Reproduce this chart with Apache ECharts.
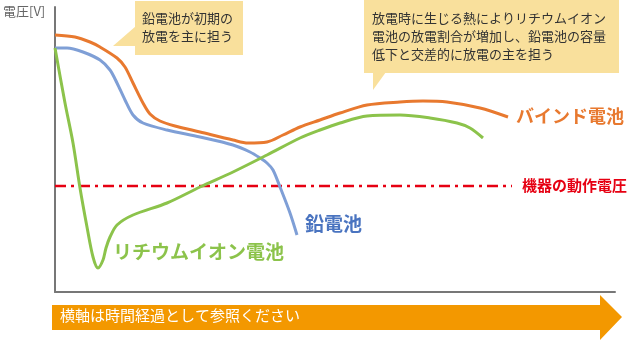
<!DOCTYPE html>
<html><head><meta charset="utf-8">
<script src="https://cdn.jsdelivr.net/npm/echarts@6/dist/echarts.min.js"></script>
<style>html,body{margin:0;padding:0;background:#fff}#c{width:629px;height:341px}</style>
</head><body><div id="c"></div>
<script>
// Data (x: elapsed time units, y: voltage units)
const bindBattery = [[0,257],[20,255],[35,250],[45,245],[62,234],[70,225],[78,209],[88,189],[95,178],[105,171],[120,166],[145,160],[178,152],[193,149],[212,150],[228,157],[245,165],[265,172],[285,179],[312,187],[345,190],[368,191],[392,190],[425,184],[453,175]];
const leadBattery = [[0,244],[12,244],[28,240],[45,232],[55,222],[62,209],[70,192],[78,177],[88,169],[112,162],[145,155],[178,147],[195,140],[205,134],[212,129],[218,122],[225,105],[235,79],[242,57]];
const liionBattery = [[0,244],[10,189],[18,149],[25,104],[32,65],[38,35],[43,24],[48,32],[51,44],[55,55],[62,67],[78,77],[112,89],[145,105],[178,120],[212,137],[245,154],[265,162],[285,169],[312,176],[345,177],[375,174],[402,169],[415,164],[428,154]];
const operatingVoltage = [[0,106],[457,106]];
const seriesNames = ['バインド電池','鉛電池','リチウムイオン電池','機器の動作電圧'];
const axisName = '電圧[V]';
const note1 = ['鉛電池が初期の','放電を主に担う'];
const note2 = ['放電時に生じる熱によりリチウムイオン','電池の放電割合が増加し、鉛電池の容量','低下と交差的に放電の主を担う'];
const arrowText = '横軸は時間経過として参照ください';

const FONT = '"Noto Sans CJK JP", "Noto Sans", sans-serif';
const chart = echarts.init(document.getElementById('c'), null, {renderer:'canvas'});
const lineSeries = (name, data, color, smooth) => ({
  name, type:'line', data, smooth, symbol:'none', silent:true, sampling:null,
  lineStyle:{color, width:3}, z:3
});
chart.setOption({
  animation:false,
  grid:{left:55, right:14, top:7, bottom:49},
  xAxis:{type:'value', min:0, max:560, axisLine:{show:true, lineStyle:{color:'#777', width:2}},
    axisTick:{show:false}, axisLabel:{show:false}, splitLine:{show:false}},
  yAxis:{type:'value', min:0, max:285, axisLine:{show:true, lineStyle:{color:'#777', width:2}},
    axisTick:{show:false}, axisLabel:{show:false}, splitLine:{show:false}},
  series:[
    {name:seriesNames[3], type:'line', data:operatingVoltage, symbol:'none', silent:true,
      lineStyle:{color:'#e60012', width:2.5, type:[11,5,3,5]}, z:2},
    lineSeries(seriesNames[1], leadBattery, '#7f9fd6', 0.3),
    lineSeries(seriesNames[2], liionBattery, '#8cc34b', 0.3),
    lineSeries(seriesNames[0], bindBattery, '#e8792f', 0.3)
  ],
  graphic:[
    {type:'text', left:3, top:5, style:{text:axisName, fill:'#666', font:'13px '+FONT}},
    // note box 1
    {type:'polygon', shape:{points:[[113,46],[136,26],[136,46]]}, style:{fill:'#f9e09c'}},
    {type:'rect', shape:{x:135, y:1, width:108, height:54}, style:{fill:'#f9e09c'}},
    {type:'text', left:142, top:9, style:{text:note1.join('\n'), fill:'#333', font:'13px '+FONT, lineHeight:18}},
    // note box 2
    {type:'polygon', shape:{points:[[373,72],[373,90],[386,72]]}, style:{fill:'#f9e09c'}},
    {type:'rect', shape:{x:364, y:0, width:255, height:73}, style:{fill:'#f9e09c'}},
    {type:'text', left:372, top:9, style:{text:note2.join('\n'), fill:'#333', font:'13px '+FONT, lineHeight:18}},
    // series labels
    {type:'text', left:516, top:107, style:{text:seriesNames[0], fill:'#e8792f', font:'bold 18px '+FONT}},
    {type:'text', left:305, top:214, style:{text:seriesNames[1], fill:'#4a74c0', font:'bold 19px '+FONT}},
    {type:'text', left:113, top:242, style:{text:seriesNames[2], fill:'#8cc34b', font:'bold 19px '+FONT}},
    {type:'text', left:522, top:178, style:{text:seriesNames[3], fill:'#e60012', font:'bold 15px '+FONT}},
    // arrow
    {type:'polygon', shape:{points:[[52,305],[600,305],[600,295],[622,317],[600,340],[600,330],[52,330]]}, style:{fill:'#f39800'}},
    {type:'text', left:60, top:308, style:{text:arrowText, fill:'#fff', font:'15px '+FONT}}
  ]
});
</script></body></html>
